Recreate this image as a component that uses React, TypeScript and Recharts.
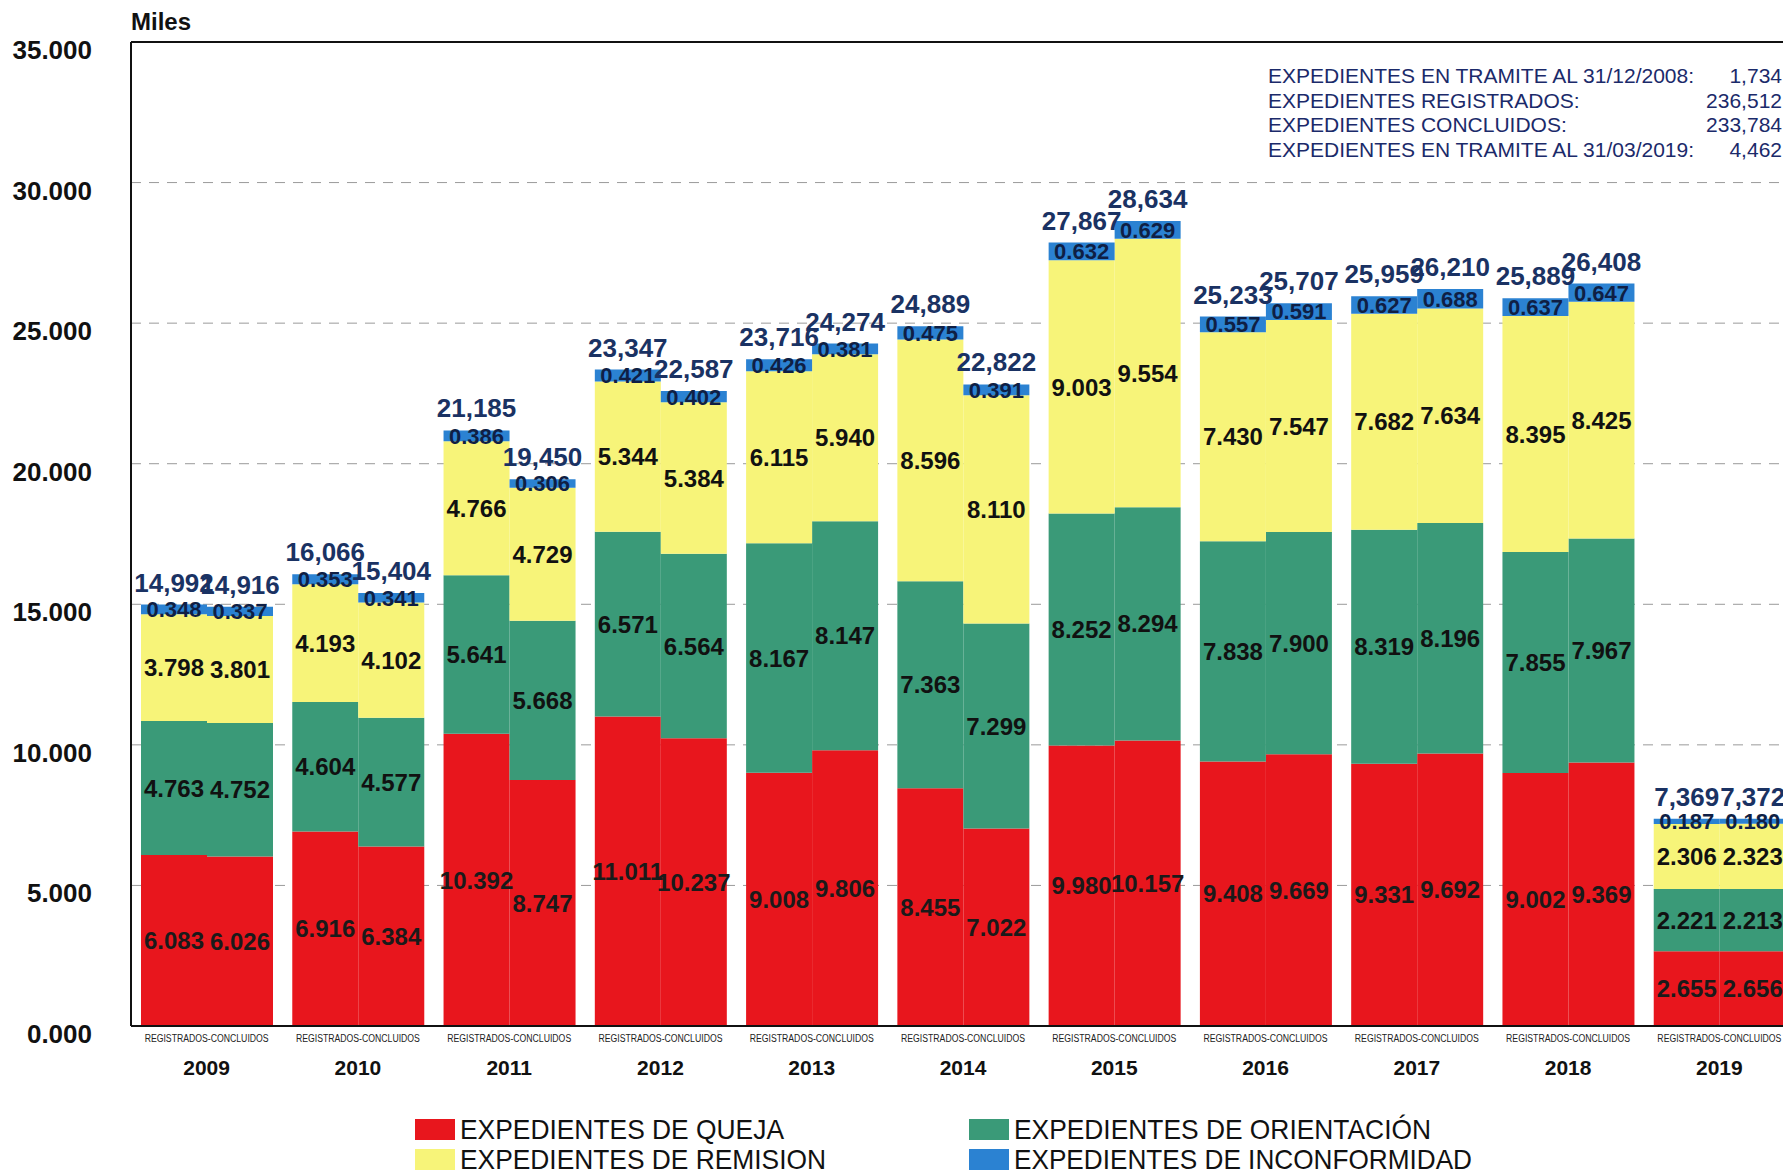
import { ComposedChart, Bar, XAxis, YAxis, CartesianGrid, LabelList, ReferenceLine } from "recharts"

// miles de expedientes por año: registrados (R) y concluidos (C)
const years = ["2009", "2010", "2011", "2012", "2013", "2014", "2015", "2016", "2017", "2018", "2019"]
const quejaReg = [6.083, 6.916, 10.392, 11.011, 9.008, 8.455, 9.98, 9.408, 9.331, 9.002, 2.655]
const quejaCon = [6.026, 6.384, 8.747, 10.237, 9.806, 7.022, 10.157, 9.669, 9.692, 9.369, 2.656]
const orientReg = [4.763, 4.604, 5.641, 6.571, 8.167, 7.363, 8.252, 7.838, 8.319, 7.855, 2.221]
const orientCon = [4.752, 4.577, 5.668, 6.564, 8.147, 7.299, 8.294, 7.9, 8.196, 7.967, 2.213]
const remisionReg = [3.798, 4.193, 4.766, 5.344, 6.115, 8.596, 9.003, 7.43, 7.682, 8.395, 2.306]
const remisionCon = [3.801, 4.102, 4.729, 5.384, 5.94, 8.11, 9.554, 7.547, 7.634, 8.425, 2.323]
const inconfReg = [0.348, 0.353, 0.386, 0.421, 0.426, 0.475, 0.632, 0.557, 0.627, 0.637, 0.187]
const inconfCon = [0.337, 0.341, 0.306, 0.402, 0.381, 0.391, 0.629, 0.591, 0.688, 0.647, 0.18]
const totalReg = [14.992, 16.066, 21.185, 23.347, 23.716, 24.889, 27.867, 25.233, 25.959, 25.889, 7.369]
const totalCon = [14.916, 15.404, 19.45, 22.587, 24.274, 22.822, 28.634, 25.707, 26.21, 26.408, 7.372]
const yTicks = [0, 5, 10, 15, 20, 25, 30, 35]

const resumen = [
  ["EXPEDIENTES EN TRAMITE AL 31/12/2008:", "1,734"],
  ["EXPEDIENTES REGISTRADOS:", "236,512"],
  ["EXPEDIENTES CONCLUIDOS:", "233,784"],
  ["EXPEDIENTES EN TRAMITE AL 31/03/2019:", "4,462"],
]

const RED = "#e8161d"
const GREEN = "#3a9a78"
const YELLOW = "#f7f479"
const BLUE = "#2b82d2"
const NAVY = "#1a3263"

const data = years.map((year, i) => ({
  year,
  qR: quejaReg[i],
  qC: quejaCon[i],
  oR: orientReg[i],
  oC: orientCon[i],
  rR: remisionReg[i],
  rC: remisionCon[i],
  iR: inconfReg[i],
  iC: inconfCon[i],
  tR: totalReg[i],
  tC: totalCon[i],
}))

const segLabel = (color: string, size: number) => (props: any) => {
  const { x, y, width, height, value } = props
  return (
    <text
      x={x + width / 2}
      y={y + height / 2}
      dy="0.36em"
      textAnchor="middle"
      fontSize={size}
      fontWeight="bold"
      fill={color}
    >
      {Number(value).toFixed(3)}
    </text>
  )
}

const totalLabel = (props: any) => {
  const { x, y, width, value } = props
  return (
    <text x={x + width / 2} y={y - 13} textAnchor="middle" fontSize={26} fontWeight="bold" fill={NAVY}>
      {Number(value).toFixed(3).replace(".", ",")}
    </text>
  )
}

const YTick = (props: any) => {
  const { y, payload } = props
  return (
    <text x={92} y={y} dy={17} textAnchor="end" fontSize={26} fontWeight="bold" fill="#111">
      {Number(payload.value).toFixed(3)}
    </text>
  )
}

const XTick = (props: any) => {
  const { x, y, payload } = props
  return (
    <g>
      <text
        x={x}
        y={y + 8}
        textAnchor="middle"
        fontSize={10}
        fill="#222"
        textLength={124}
        lengthAdjust="spacingAndGlyphs"
      >
        REGISTRADOS-CONCLUIDOS
      </text>
      <text x={x} y={y + 41} textAnchor="middle" fontSize={21} fontWeight="bold" fill="#111">
        {payload.value}
      </text>
    </g>
  )
}

const legendItems = [
  { label: "EXPEDIENTES DE QUEJA", color: RED, x: 415, y: 1129, w: 324 },
  { label: "EXPEDIENTES DE REMISION", color: YELLOW, x: 415, y: 1159, w: 366 },
  { label: "EXPEDIENTES DE ORIENTACIÓN", color: GREEN, x: 969, y: 1129, w: 417 },
  { label: "EXPEDIENTES DE INCONFORMIDAD", color: BLUE, x: 969, y: 1159, w: 458 },
]

export default function App() {
  return (
    <div
      style={{
        position: "fixed",
        left: 0,
        top: 0,
        width: 1783,
        height: 1171,
        overflow: "hidden",
        background: "#fff",
        fontFamily: 'Arial, "Liberation Sans", sans-serif',
      }}
    >
      <ComposedChart
        width={1800}
        height={1171}
        data={data}
        margin={{ top: 42, right: 5, bottom: 85, left: 0 }}
        barCategoryGap={10}
        barGap={0}
      >
        <CartesianGrid vertical={false} stroke="#9a9a9a" strokeDasharray="10 8" />
        <XAxis
          dataKey="year"
          axisLine={{ stroke: "#111", strokeWidth: 2 }}
          tickLine={false}
          tick={<XTick />}
          height={60}
          interval={0}
        />
        <YAxis
          domain={[0, 35]}
          ticks={yTicks}
          width={131}
          axisLine={{ stroke: "#111", strokeWidth: 2 }}
          tickLine={false}
          tick={<YTick />}
        />
        <ReferenceLine y={35} stroke="#111" strokeWidth={2} />

        <Bar dataKey="qR" stackId="R" fill={RED} isAnimationActive={false}>
          <LabelList dataKey="qR" content={segLabel("#1a1a1a", 24)} />
        </Bar>
        <Bar dataKey="qC" stackId="C" fill={RED} isAnimationActive={false}>
          <LabelList dataKey="qC" content={segLabel("#1a1a1a", 24)} />
        </Bar>
        <Bar dataKey="oR" stackId="R" fill={GREEN} isAnimationActive={false}>
          <LabelList dataKey="oR" content={segLabel("#111", 24)} />
        </Bar>
        <Bar dataKey="oC" stackId="C" fill={GREEN} isAnimationActive={false}>
          <LabelList dataKey="oC" content={segLabel("#111", 24)} />
        </Bar>
        <Bar dataKey="rR" stackId="R" fill={YELLOW} isAnimationActive={false}>
          <LabelList dataKey="rR" content={segLabel("#111", 24)} />
        </Bar>
        <Bar dataKey="rC" stackId="C" fill={YELLOW} isAnimationActive={false}>
          <LabelList dataKey="rC" content={segLabel("#111", 24)} />
        </Bar>
        <Bar dataKey="iR" stackId="R" fill={BLUE} isAnimationActive={false}>
          <LabelList dataKey="iR" content={segLabel("#0f1f45", 22)} />
          <LabelList dataKey="tR" content={totalLabel} />
        </Bar>
        <Bar dataKey="iC" stackId="C" fill={BLUE} isAnimationActive={false}>
          <LabelList dataKey="iC" content={segLabel("#0f1f45", 22)} />
          <LabelList dataKey="tC" content={totalLabel} />
        </Bar>
      </ComposedChart>

      <div style={{ position: "absolute", left: 131, top: 8, fontSize: 24, fontWeight: "bold", color: "#111" }}>
        Miles
      </div>

      <div style={{ position: "absolute", left: 1268, right: 1, top: 64, fontSize: 21, color: "#1b2a6a" }}>
        {resumen.map(([k, v]) => (
          <div key={k} style={{ display: "flex", justifyContent: "space-between", lineHeight: "24.5px" }}>
            <span>{k}</span>
            <span>{v}</span>
          </div>
        ))}
      </div>

      <svg width={1783} height={1171} style={{ position: "absolute", left: 0, top: 0, pointerEvents: "none" }}>
        {legendItems.map((it) => (
          <g key={it.label}>
            <rect x={it.x} y={it.y - 10} width={40} height={21} fill={it.color} />
            <text
              x={it.x + 45}
              y={it.y}
              dy="0.36em"
              fontSize={28}
              fill="#111"
              textLength={it.w}
              lengthAdjust="spacingAndGlyphs"
            >
              {it.label}
            </text>
          </g>
        ))}
      </svg>
    </div>
  )
}
